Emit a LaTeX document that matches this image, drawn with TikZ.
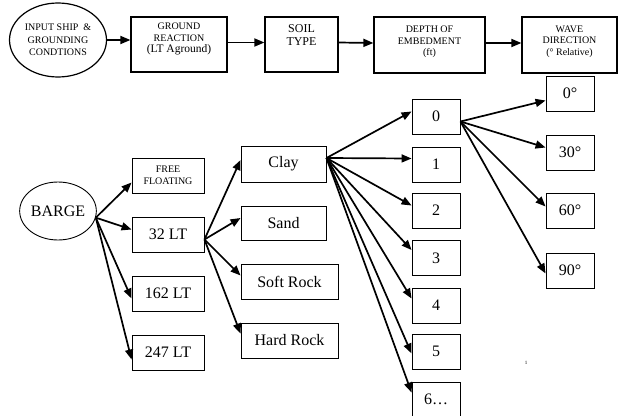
\documentclass[tikz,border=0pt]{standalone}
\usepackage{fontspec}
\setmainfont{Liberation Serif}
\usetikzlibrary{arrows.meta,shapes.geometric}
\newcommand{\upstack}[2]{\raisebox{#1}[0pt][0pt]{\begin{tabular}{@{}c@{}}#2\end{tabular}}}
\tikzset{
  topbox/.style={draw, line width=1.2pt, rectangle, inner sep=0pt, font=\fontsize{10}{11.5}\selectfont},
  topell/.style={draw, line width=1.2pt, ellipse, inner sep=0pt, align=center, font=\fontsize{10}{12.5}\selectfont},
  box/.style={draw, line width=0.9pt, rectangle, inner sep=0pt, align=center, font=\fontsize{16}{18}\selectfont},
  dbox/.style={box, minimum width=48pt, minimum height=35pt, font=\fontsize{16}{18}\selectfont},
  arr/.style={line width=1.7pt, -{Triangle[length=10pt,width=8pt]}},
}
\begin{document}
\begin{tikzpicture}[x=1pt,y=-1pt]
\useasboundingbox (0,0) rectangle (618,415);
% top row
\node[topell, minimum width=97pt, minimum height=74pt] (inp) at (58,40) {INPUT SHIP \ \&\\GROUNDING\\CONDTIONS};
\node[topbox, minimum width=96pt, minimum height=55pt] (gr) at (179,44.5)
  {\upstack{3pt}{\renewcommand{\arraystretch}{0.95}GROUND\\REACTION\\{\fontsize{11.5}{12}\selectfont(LT Aground)}}};
\node[topbox, minimum width=73pt, minimum height=55pt, font=\fontsize{12}{13}\selectfont] (soil) at (301.5,44.5)
  {\upstack{5pt}{\renewcommand{\arraystretch}{0.9}SOIL\\TYPE}};
\node[topbox, minimum width=111pt, minimum height=56pt] (depth) at (429.5,45)
  {\upstack{0.5pt}{DEPTH OF\\EMBEDMENT\\(ft)}};
\node[topbox, minimum width=95pt, minimum height=56pt] (wave) at (569.5,45)
  {\upstack{1pt}{WAVE\\DIRECTION\\(\textdegree{} Relative)}};
\draw[arr] (inp.east) -- (inp.east -| gr.west);
\draw[arr] ([yshift=2pt]gr.east) -- ([yshift=2pt]soil.west);
\draw[arr] ([yshift=2pt]soil.east) -- ([yshift=2pt]depth.west);
\draw[arr] ([yshift=2pt]depth.east) -- ([yshift=2pt]wave.west);
% barge
\node[draw, line width=0.9pt, ellipse, minimum width=73pt, minimum height=58pt, inner sep=0pt, font=\fontsize{16}{18}\selectfont] (barge) at (58,211) {BARGE};
\node[box, minimum width=72pt, minimum height=35pt, font=\fontsize{10}{12}\selectfont] (ff) at (168,175.5) {FREE\\FLOATING};
\node[box, minimum width=72pt, minimum height=35pt] (lt32) at (168,234.5) {32 LT};
\node[box, minimum width=72pt, minimum height=35pt] (lt162) at (168,293.5) {162 LT};
\node[box, minimum width=72pt, minimum height=35pt] (lt247) at (168,352.5) {247 LT};
% soil
\node[box, minimum width=85pt, minimum height=36pt] (clay) at (283.5,164) {Clay};
\node[box, minimum width=85pt, minimum height=34pt] (sand) at (283.5,223) {Sand};
\node[box, minimum width=97pt, minimum height=35pt] (soft) at (289.5,281.5) {Soft Rock};
\node[box, minimum width=97pt, minimum height=35pt] (hard) at (289.5,340.5) {Hard Rock};
% depths
\node[dbox] (d0) at (436,116.5) {0};
\node[dbox] (d1) at (436,164.5) {1};
\node[dbox] (d2) at (436,210.5) {2};
\node[dbox] (d3) at (436,258) {3};
\node[dbox] (d4) at (436,305.5) {4};
\node[dbox] (d5) at (436,351.5) {5};
\node[dbox] (d6) at (436,399.5) {6\ldots};
% waves
\node[dbox] (w0) at (570,93.5) {0\textdegree};
\node[dbox] (w30) at (570,152.5) {30\textdegree};
\node[dbox] (w60) at (570,210.5) {60\textdegree};
\node[dbox] (w90) at (570,270.5) {90\textdegree};
\node[font=\fontsize{5}{6}\selectfont, inner sep=0pt] (fn) at (526,363) {1};
% arrows from barge
\coordinate (bs) at (barge.-10);
\draw[arr] (bs) -- ([yshift=-7pt]ff.west);
\draw[arr] (bs) -- ([yshift=5pt]lt32.west);
\draw[arr] (bs) -- ([yshift=-5pt]lt162.west);
\draw[arr] (bs) -- ([yshift=-7pt]lt247.west);
% arrows from 32 LT
\coordinate (ls) at ([yshift=-5pt]lt32.east);
\draw[arr] (ls) -- ([yshift=4pt]clay.west);
\draw[arr] (ls) -- ([yshift=5pt]sand.west);
\draw[arr] (ls) -- ([yshift=6pt]soft.west);
\draw[arr] (ls) -- ([yshift=7pt]hard.west);
% arrows from clay
\coordinate (cs) at ([yshift=6pt]clay.east);
\draw[arr] (cs) -- ([yshift=5pt]d0.west);
\draw[arr] (cs) -- ([yshift=6pt]d1.west);
\draw[arr] (cs) -- ([yshift=5pt]d2.west);
\draw[arr] (cs) -- ([yshift=8pt]d3.west);
\draw[arr] (cs) -- ([yshift=7pt]d4.west);
\draw[arr] (cs) -- ([yshift=-2pt]d5.west);
\draw[arr] (cs) -- ([yshift=7pt]d6.west);
% arrows from 0
\coordinate (zs) at ([yshift=-5pt]d0.east);
\draw[arr] (zs) -- ([yshift=-7pt]w0.west);
\draw[arr] (zs) -- ([yshift=5pt]w30.west);
\draw[arr] (zs) -- ([yshift=4pt]w60.west);
\draw[arr] (zs) -- ([yshift=-3pt]w90.west);
\end{tikzpicture}
\end{document}
